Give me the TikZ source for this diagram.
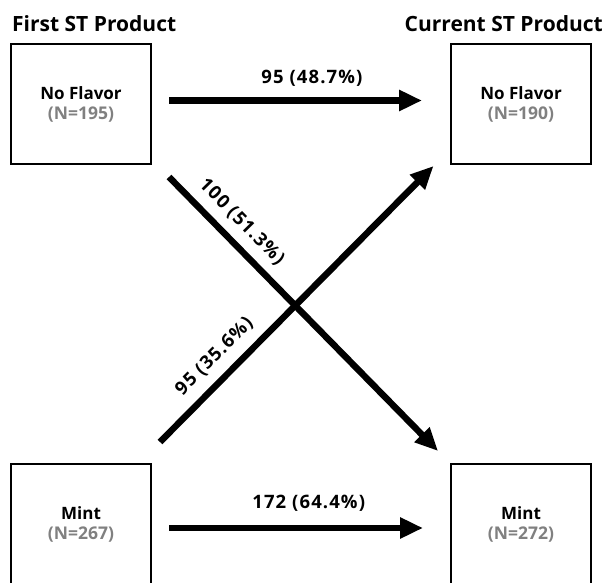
\documentclass[tikz,border=0pt]{standalone}
\usepackage{fontspec}
\setmainfont{Open Sans}
\newfontfamily\lblfont[LetterSpace=6]{Open Sans}
\usetikzlibrary{arrows.meta,calc}
\definecolor{ngray}{HTML}{808080}
\begin{document}
\begin{tikzpicture}[x=1pt,y=-1pt,
  box/.style={draw,line width=2pt,minimum width=140pt,minimum height=120pt,inner sep=0pt,align=center,font=\bfseries\fontsize{17}{20}\selectfont},
  flow/.style={line width=6.5pt,-{Triangle[length=23pt,width=20pt]}},
  lbl/.style={font=\lblfont\bfseries\fontsize{18.5}{20}\selectfont,inner sep=0pt},
  ttl/.style={font=\bfseries\fontsize{21}{24}\selectfont,inner sep=0pt}]
\useasboundingbox (0,0) rectangle (611,583);
\clip (0,0) rectangle (611,583);
\node[ttl,anchor=base west] (t1) at (12,32) {First ST Product};
\node[ttl,anchor=base east] (t2) at (603,32) {Current ST Product};
\node[box] (nf1) at (81,104.5) {No Flavor\\\textcolor{ngray}{\fontsize{17.5}{20}\selectfont(N=195)}};
\node[box] (nf2) at (521,104.5) {No Flavor\\\textcolor{ngray}{\fontsize{17.5}{20}\selectfont(N=190)}};
\node[box] (m1) at (81,524) {Mint\\\textcolor{ngray}{\fontsize{17.5}{20}\selectfont(N=267)}};
\node[box] (m2) at (521,524) {Mint\\\textcolor{ngray}{\fontsize{17.5}{20}\selectfont(N=272)}};
\draw[flow] ([shift={(17,-4)}]nf1.east) -- node[lbl,pos=0.565,above=11pt]{95 (48.7\%)} ([shift={(-28,-4)}]nf2.west);
\draw[flow] ([shift={(17,4)}]m1.east) -- node[lbl,pos=0.55,above=13pt]{172 (64.4\%)} ([shift={(-27,4)}]m2.west);
\draw[flow] ([shift={(17,11.5)}]nf1.south east) -- node[lbl,pos=0.216,sloped,above=9pt]{100 (51.3\%)} ([shift={(-12,-12)}]m2.north west);
\draw[flow] ([shift={(8,-21)}]m1.north east) -- node[lbl,pos=0.255,sloped,above=10pt]{95 (35.6\%)} ([shift={(-16.5,0.5)}]nf2.south west);
\end{tikzpicture}
\end{document}
